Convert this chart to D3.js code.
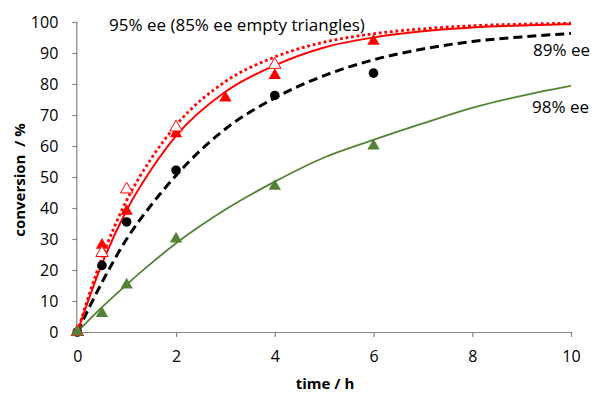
<!DOCTYPE html>
<html><head><meta charset="utf-8">
<script src="https://cdn.jsdelivr.net/npm/d3@7"></script>
<style>body{margin:0;background:#fff}svg{display:block}text{font-family:"Open Sans",Lato,sans-serif;fill:#000}</style>
</head><body><svg id="c" width="592" height="395"></svg>
<script>
// measured points
const ee89Times = [0, 0.5, 1, 2, 4, 6];
const ee89 = [0, 21.5, 35.5, 52.2, 76.3, 83.5];
const ee95Times = [0, 0.5, 1, 2, 3, 4, 6];
const ee95 = [0, 28, 39, 64, 75.5, 82.8, 93.8];
const ee85Times = [0, 0.5, 1, 2, 4];
const ee85 = [0, 25.5, 46, 66, 86.2];
const ee98Times = [0, 0.5, 1, 2, 4, 6];
const ee98 = [0, 6, 15.2, 30, 47, 60];
// fitted curves
const curveT = [0, 0.5, 1, 1.5, 2, 3, 4, 5, 6, 7, 8, 9, 10];
const fit95 = [0, 22, 39.3, 52.5, 63.3, 77.5, 86, 91.8, 95, 97, 98.2, 98.9, 99.3];
const fit85 = [0, 24, 42.5, 56, 66.7, 80.8, 88.7, 93.5, 96.2, 97.8, 98.8, 99.3, 99.6];
const fit89 = [0, 16, 30, 41, 50.5, 65.5, 75.5, 82.7, 87.8, 91.3, 93.7, 95.2, 96.3];
const fit98 = [0, 8, 15.3, 22.2, 28.6, 39.5, 48.5, 56.3, 62, 67.3, 72.3, 76.2, 79.4];
const xTicks = [0, 2, 4, 6, 8, 10];
const yTicks = [0, 10, 20, 30, 40, 50, 60, 70, 80, 90, 100];

const svg = d3.select("#c");
const x = d3.scaleLinear().domain([0, 10]).range([77.3, 571]);
const y = d3.scaleLinear().domain([0, 100]).range([332, 22]);
const axisCol = "#868686";

// axes
const gx = svg.append("g").attr("transform", `translate(0,${y(0)})`)
  .call(d3.axisBottom(x).tickValues(xTicks).tickSize(5).tickPadding(14).tickFormat(d3.format("d")));
const gy = svg.append("g").attr("transform", `translate(${x(0)},0)`)
  .call(d3.axisLeft(y).tickValues(yTicks).tickSize(5).tickPadding(14).tickFormat(d3.format("d")));
[gx, gy].forEach(g => {
  g.select(".domain").attr("stroke", axisCol).attr("stroke-width", 1.2);
  g.selectAll(".tick line").attr("stroke", axisCol).attr("stroke-width", 1.2);
  g.selectAll(".tick text").style("font-size", "16px").attr("fill", "#000");
});
gy.select(".domain").attr("d", `M-0.5,${y(100)}V${y(0)}`);
gx.select(".domain").attr("d", `M${x(0)},0.5H${x(10)}`);

// lines
const line = d3.line().x(d => x(d[0])).y(d => y(d[1])).curve(d3.curveMonotoneX);
function drawLine(vals, color, w, dash) {
  svg.append("path").datum(curveT.map((t, i) => [t, vals[i]]))
    .attr("d", line).attr("fill", "none").attr("stroke", color)
    .attr("stroke-width", w).attr("stroke-dasharray", dash || null);
}
drawLine(fit89, "#000", 3, "9,5");
drawLine(fit95, "#ff0000", 2);
drawLine(fit85, "#ff0000", 2.8, "2.8,2.8");
drawLine(fit98, "#548235", 1.8);

const tri = d3.symbol().type(d3.symbolTriangle).size(66);
const circ = d3.symbol().type(d3.symbolCircle).size(72);
function drawPts(ts, vals, sym, fill, stroke, sw) {
  svg.append("g").selectAll("path").data(ts.map((t, i) => [t, vals[i]])).join("path")
    .attr("d", sym).attr("transform", d => `translate(${x(d[0])},${y(d[1])})`)
    .attr("fill", fill).attr("stroke", stroke || "none").attr("stroke-width", sw || 0);
}
drawPts(ee89Times, ee89, circ, "#000");
drawPts(ee95Times, ee95, tri, "#ff0000");
drawPts(ee85Times, ee85, tri, "#fff", "#ff0000", 1);
drawPts(ee98Times, ee98, tri, "#548235");

// annotations
svg.append("text").attr("x", 109).attr("y", 31).style("font-size", "17px").text("95% ee (85% ee empty triangles)");
svg.append("text").attr("x", 533).attr("y", 56).style("font-size", "17px").text("89% ee");
svg.append("text").attr("x", 532).attr("y", 113).style("font-size", "17px").text("98% ee");
// axis titles
svg.append("text").attr("x", 325).attr("y", 389).attr("text-anchor", "middle")
  .style("font-size", "15px").style("font-weight", "bold").text("time / h");
svg.append("text").attr("transform", "translate(25,180) rotate(-90)").attr("text-anchor", "middle")
  .style("font-size", "15px").style("font-weight", "bold").style("white-space", "pre").text("conversion  / %");
</script></body></html>
